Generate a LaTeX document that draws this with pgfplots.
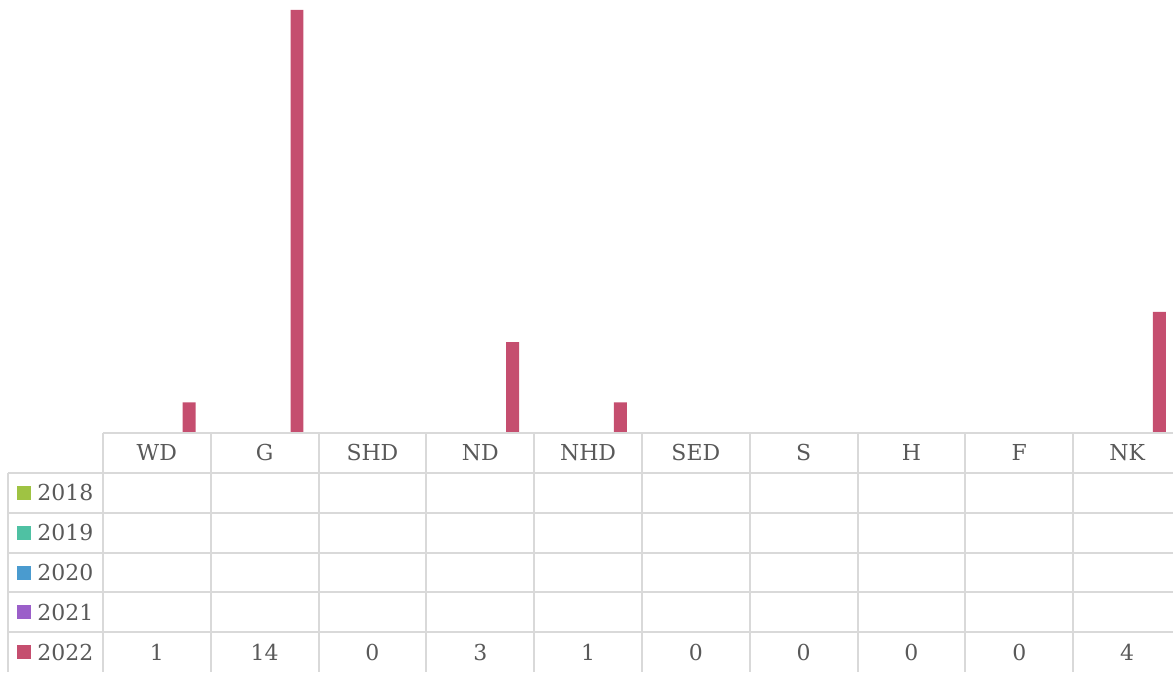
\documentclass[border=0pt]{standalone}
\usepackage{pgfplots}
\pgfplotsset{compat=1.18}
\usepackage{fontspec}
\setmainfont{DejaVu Serif}
\definecolor{c2018}{HTML}{9FC343}
\definecolor{c2019}{HTML}{4FC1A3}
\definecolor{c2020}{HTML}{4A9BCF}
\definecolor{c2021}{HTML}{9B5FC9}
\definecolor{c2022}{HTML}{C54E6F}
\definecolor{gridc}{HTML}{D9D9D9}
\definecolor{txt}{HTML}{595959}
\begin{document}
\fontsize{11}{13}\selectfont
\begin{tikzpicture}
% pixel frame (1px = 0.5pt), origin at the bar baseline / left of plot
\begin{scope}[x=0.5pt,y=-0.5pt,xshift=-51.5pt,yshift=216.5pt]
  \useasboundingbox (0,0) rectangle (1174,673);
\end{scope}

\begin{axis}[
    at={(0,0)}, anchor=south west,
    hide axis, clip=false,
    x=53.95pt, y=15.107pt,
    xmin=-0.5, xmax=9.426,
    ymin=0, ymax=14,
]
  \addplot[ybar, bar width=0.12, bar shift=0.3, fill=c2022, draw=none]
    coordinates {(0,1) (1,14) (2,0) (3,3) (4,1) (5,0) (6,0) (7,0) (8,0) (9,4)};
\end{axis}

% data table
\begin{scope}[x=0.5pt,y=-0.5pt,xshift=-51.5pt,yshift=216.5pt]
  \begin{scope}[draw=gridc, line width=1pt]
    \draw (103,433) -- (1174,433);
    \foreach \y in {473,513,553,593,633} \draw (8,\y) -- (1174,\y);
    \draw (8,473) -- (8,673);
    \foreach \i in {0,...,9} \draw ({103+107.9*\i},433) -- ({103+107.9*\i},673);
  \end{scope}
  \foreach \lab [count=\i from 0] in {WD,G,SHD,ND,NHD,SED,S,H,F,NK}
    \node[text=txt] at ({156.95+107.9*\i},453) {\lab};
  \foreach \v [count=\i from 0] in {1,14,0,3,1,0,0,0,0,4}
    \node[text=txt] at ({156.95+107.9*\i},653) {\v};
  \foreach \yr/\c [count=\i from 0] in {2018/c2018,2019/c2019,2020/c2020,2021/c2021,2022/c2022} {
    \fill[\c] (17,{486+40*\i}) rectangle (31,{500+40*\i});
    \node[anchor=west, inner sep=0pt, text=txt] at (37,{493+40*\i}) {\yr};
  }
\end{scope}
\end{tikzpicture}
\end{document}
